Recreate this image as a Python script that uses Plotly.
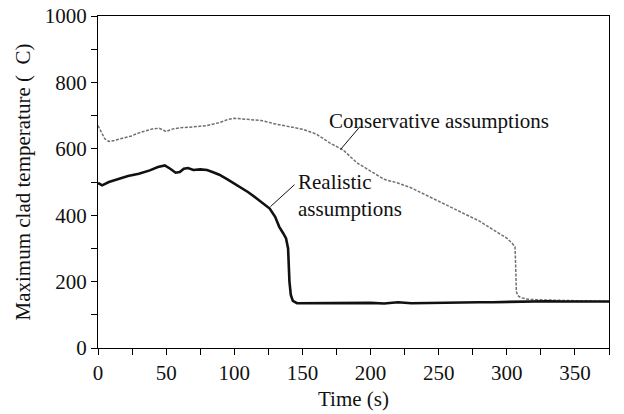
import plotly.graph_objects as go

# Realistic assumptions (black solid)
real_t = [0, 3, 8, 15, 22, 30, 38, 44, 49, 53, 57, 60, 63, 66, 70, 75, 80, 84, 89, 95,
          104, 110, 116, 121, 126, 130, 133, 136, 138, 139.5, 140.5, 141.5, 143, 146, 150,
          160, 170, 180, 190, 200, 210, 220, 230, 240, 250, 260, 270, 280, 290, 300, 310,
          320, 330, 340, 350, 360, 375]
real_v = [497, 490, 500, 510, 518, 525, 535, 545, 550, 540, 528, 530, 540, 542, 536, 538, 536, 530, 522, 508,
          485, 470, 452, 437, 420, 395, 365, 345, 330, 300, 200, 160, 142, 135, 135,
          136, 137, 135, 137, 136, 134, 138, 135, 136, 136, 137, 138, 138, 138, 139, 140,
          140, 141, 140, 140, 140, 140]

# Conservative assumptions (grey dashed)
cons_t = [0, 2, 5, 8, 12, 18, 24, 30, 35, 40, 45, 50, 55, 60, 70, 80, 90, 95, 100, 110,
          120, 130, 140, 150, 160, 170, 180, 190, 200, 210, 220, 230, 240, 250, 260, 270,
          280, 290, 300, 304, 306, 306.5, 307, 308, 310, 314, 318, 325, 335, 345, 355, 365, 375]
cons_v = [670, 655, 630, 622, 625, 632, 638, 648, 655, 660, 662, 652, 660, 663, 666, 670, 680, 688, 692, 688,
          685, 675, 668, 659, 645, 618, 596, 558, 533, 508, 497, 482, 462, 442, 422, 402,
          382, 356, 331, 315, 305, 250, 170, 158, 152, 148, 146, 145, 144, 143, 142, 141, 140]

font_family = "Liberation Serif"
fs = 21

fig = go.Figure()
fig.add_trace(go.Scatter(x=cons_t, y=cons_v, mode="lines",
                         line=dict(color="#707070", width=1.5, dash="3px,1.5px"),
                         name="Conservative assumptions", showlegend=False))
fig.add_trace(go.Scatter(x=real_t, y=real_v, mode="lines",
                         line=dict(color="#111111", width=2.6),
                         name="Realistic assumptions", showlegend=False))

fig.add_annotation(x=168, y=683, text="Conservative assumptions", showarrow=False,
                   xanchor="left", yanchor="middle", font=dict(size=fs, color="#111", family=font_family))
fig.add_annotation(x=145, y=458, text="Realistic<br>assumptions", showarrow=False,
                   xanchor="left", yanchor="middle", align="left",
                   font=dict(size=fs, color="#111", family=font_family))
fig.add_shape(type="line", x0=178, y0=598, x1=192.5, y1=668, line=dict(color="#111", width=1))
fig.add_shape(type="line", x0=126.6, y0=426, x1=144.2, y1=492, line=dict(color="#111", width=1))

axis_common = dict(showline=True, linecolor="black", linewidth=1.3, mirror=True,
                   ticks="outside", ticklen=6, tickwidth=1, tickcolor="black",
                   showgrid=False, zeroline=False, automargin=False,
                   tickfont=dict(size=fs, color="#111", family=font_family))

fig.update_xaxes(range=[0, 375], dtick=50, tick0=0,
                 minor=dict(dtick=25, ticks="outside", ticklen=6, tickcolor="black", tickwidth=1),
                 title=dict(text="Time (s)", font=dict(size=fs, color="#111", family=font_family), standoff=6),
                 **axis_common)
fig.update_yaxes(range=[0, 1000], dtick=200, tick0=0,
                 minor=dict(dtick=100, ticks="outside", ticklen=6, tickcolor="black", tickwidth=1),
                 title=dict(text="Maximum clad temperature (  C)", font=dict(size=fs, color="#111", family=font_family), standoff=8),
                 **axis_common)

fig.update_layout(width=624, height=414,
                  margin=dict(l=98, r=15, t=16, b=66),
                  paper_bgcolor="white", plot_bgcolor="white",
                  font=dict(family=font_family, size=fs, color="#111"))

fig.write_html("out.html")
